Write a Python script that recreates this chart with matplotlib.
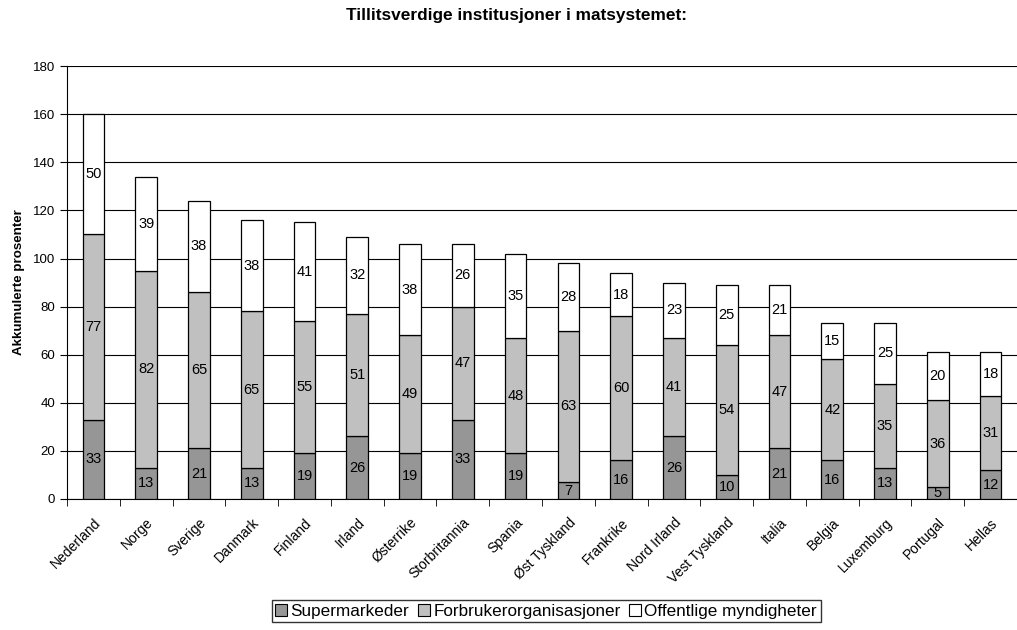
import numpy as np
import matplotlib.pyplot as plt
from matplotlib.patches import Patch

plt.rcParams['font.family'] = ['Liberation Sans', 'DejaVu Sans']

# Data
countries = ['Nederland', 'Norge', 'Sverige', 'Danmark', 'Finland', 'Irland',
             'Østerrike', 'Storbritannia', 'Spania', 'Øst Tyskland', 'Frankrike',
             'Nord Irland', 'Vest Tyskland', 'Italia', 'Belgia', 'Luxemburg',
             'Portugal', 'Hellas']
supermarkeder = [33, 13, 21, 13, 19, 26, 19, 33, 19, 7, 16, 26, 10, 21, 16, 13, 5, 12]
forbruker = [77, 82, 65, 65, 55, 51, 49, 47, 48, 63, 60, 41, 54, 47, 42, 35, 36, 31]
offentlige = [50, 39, 38, 38, 41, 32, 38, 26, 35, 28, 18, 23, 25, 21, 15, 25, 20, 18]
series_names = ['Supermarkeder', 'Forbrukerorganisasjoner', 'Offentlige myndigheter']
colors = ['#969696', '#c0c0c0', '#ffffff']

fig = plt.figure(figsize=(10.17, 6.3), dpi=100)
ax = fig.add_axes([0.0659, 0.208, 0.9341, 0.687])

x = np.arange(len(countries))
bottom = np.zeros(len(countries))
for vals, col in zip([supermarkeder, forbruker, offentlige], colors):
    vals = np.array(vals)
    ax.bar(x, vals, width=0.41, bottom=bottom, color=col, edgecolor='black',
           linewidth=0.9, zorder=3)
    for xi, b, v in zip(x, bottom, vals):
        ax.text(xi, b + v / 2, str(v), ha='center', va='center', fontsize=10.5, zorder=4)
    bottom += vals

# plot area runs past the right edge of the image in the original
ax.set_xlim(-0.5, len(countries) - 0.69)
ax.set_ylim(0, 180)
ax.set_yticks(np.arange(0, 181, 20))
ax.yaxis.grid(True, color='black', linewidth=0.8, zorder=0)
ax.set_axisbelow(True)

ax.set_xticks(x)
ax.set_xticklabels(countries, rotation=45, ha='right', rotation_mode='anchor', fontsize=10)
ax.set_xticks(np.arange(-0.5, len(countries), 1), minor=True)
ax.tick_params(axis='x', which='major', length=0, pad=12)
ax.tick_params(axis='x', which='minor', length=5, direction='out')
ax.tick_params(axis='y', labelsize=9.5, length=5)

for side in ['top', 'right']:
    ax.spines[side].set_visible(False)

ax.set_ylabel('Akkumulerte prosenter', fontsize=9.6, fontweight='bold', labelpad=6)
fig.text(0.508, 0.976, 'Tillitsverdige institusjoner i matsystemet:', fontsize=12.4,
         fontweight='bold', ha='center', va='center')

handles = [Patch(facecolor=c, edgecolor='black', linewidth=0.8) for c in colors]
fig.legend(handles, series_names, loc='center', bbox_to_anchor=(0.537, 0.03),
           ncol=3, frameon=True, fancybox=False, edgecolor='black', fontsize=12.3,
           handlelength=0.7, handleheight=0.7, handletextpad=0.2, columnspacing=0.5,
           borderpad=0.2)

fig.savefig('out.png', dpi=100)
